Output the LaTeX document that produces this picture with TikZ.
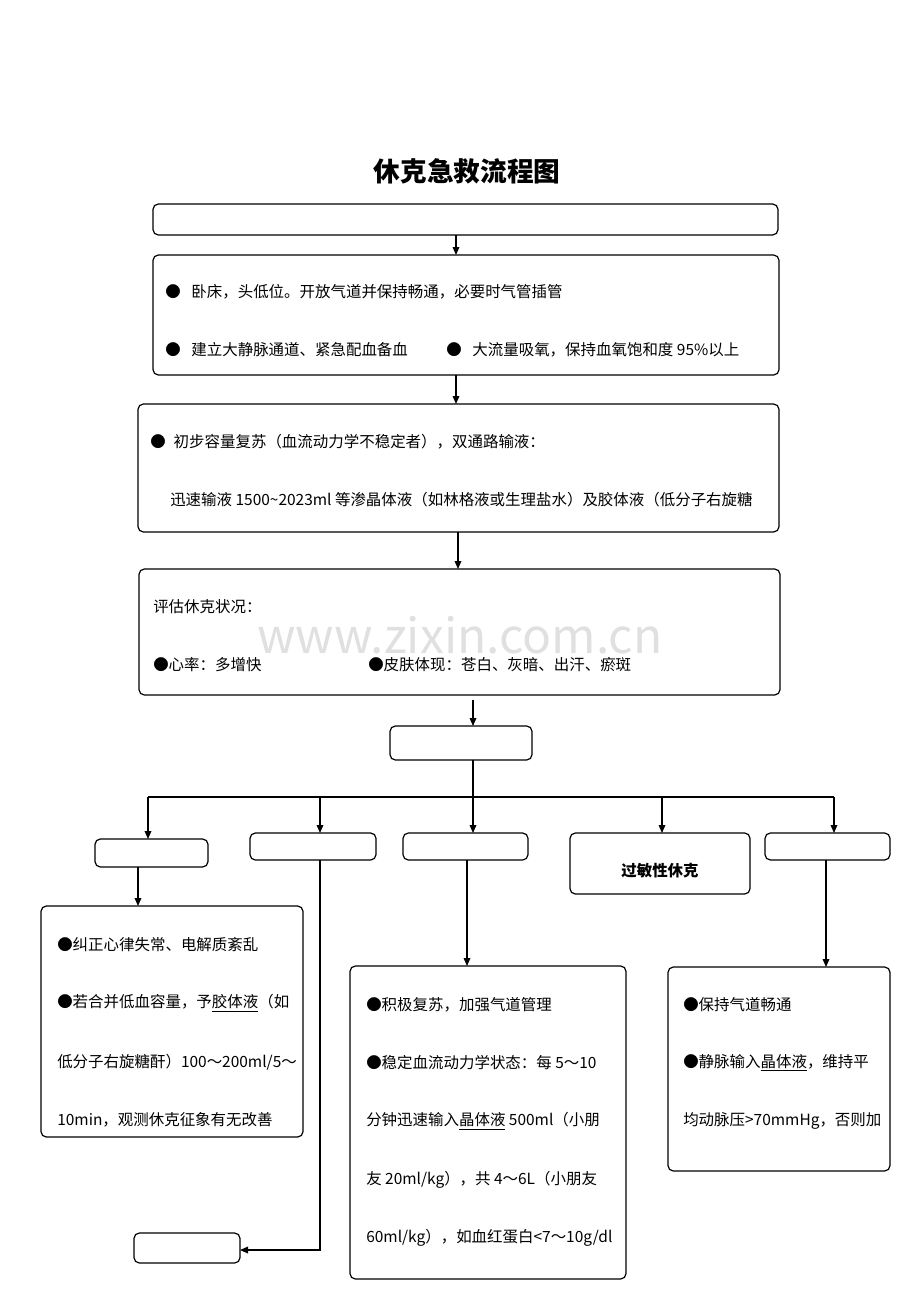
\documentclass[tikz,border=0pt]{standalone}
\usepackage{fontspec}
\setmainfont{Noto Sans CJK SC}
\usetikzlibrary{arrows.meta}
\begin{document}
\begin{tikzpicture}[x=0.75pt,y=-0.75pt,
 box/.style={draw,rounded corners=4pt,line width=0.9pt},
 arr/.style={-{Triangle[length=6pt,width=5pt]},line width=0.9pt},
 ln/.style={line width=0.9pt},
 t/.style={anchor=west,inner sep=0pt,font=\fontsize{11.6}{13}\selectfont}]
\useasboundingbox (0,0) rectangle (920,1302);
\node[text=black!12,font=\fontsize{36}{40}\selectfont] (wm) at (460,635) {www.zixin.com.cn};
\node[font=\fontsize{20}{23}\selectfont\bfseries] (title) at (467,171) {休克急救流程图};
% boxes
\draw[box] (153,204) rectangle (778,235); \coordinate (b1s) at (456,235);
\draw[box] (153,255) rectangle (779,375); \coordinate (b2n) at (456,255); \coordinate (b2s) at (456,375);
\draw[box] (138,404) rectangle (779,532); \coordinate (b3n) at (456,404); \coordinate (b3s) at (458,532);
\draw[box] (139,569) rectangle (780,695); \coordinate (b4n) at (458,569); \coordinate (b4s) at (473,700);
\draw[box] (390,726) rectangle (532,760); \coordinate (b5n) at (473,726); \coordinate (b5s) at (473,760);
\draw[box] (95,839) rectangle (208,867);
\draw[box] (250,833) rectangle (376,860);
\draw[box] (403,833) rectangle (528,860);
\draw[box] (570,833) rectangle (750,894);
\draw[box] (765,833) rectangle (890,860);
\draw[box] (41,906) rectangle (303,1137);
\draw[box] (134,1233) rectangle (240,1263);
\draw[box] (350,966) rectangle (626,1279);
\draw[box] (668,967) rectangle (890,1171);
% texts
\node[t] (l1) at (165,292) {●\hspace{8pt}卧床，头低位。开放气道并保持畅通，必要时气管插管};
\node[t] (l2) at (165,350) {●\hspace{8pt}建立大静脉通道、紧急配血备血};
\node[t] (l3) at (446,350) {●\hspace{8pt}大流量吸氧，保持血氧饱和度 95\%以上};
\node[t] (l4) at (150,442) {●\hspace{6pt}初步容量复苏（血流动力学不稳定者），双通路输液：};
\node[t] (l5) at (170,500) {迅速输液 1500\textasciitilde 2023ml 等渗晶体液（如林格液或生理盐水）及胶体液（低分子右旋糖};
\node[t] (l6) at (153,607) {评估休克状况：};
\node[t] (l7) at (153,665) {●心率：多增快};
\node[t] (l8) at (368,665) {●皮肤体现：苍白、灰暗、出汗、瘀斑};
\node[font=\fontsize{11.6}{13}\selectfont\bfseries] (d) at (660,871) {过敏性休克};
\node[t] (a1) at (57,945) {●纠正心律失常、电解质紊乱};
\node[t] (a2) at (57,1003) {●若合并低血容量，予\underline{胶体液}（如};
\node[t] (a3) at (57,1062) {低分子右旋糖酐）100～200ml/5～};
\node[t] (a4) at (57,1120) {10min，观测休克征象有无改善};
\node[t] (c1) at (366,1005) {●积极复苏，加强气道管理};
\node[t] (c2) at (366,1063) {●稳定血流动力学状态：每 5～10};
\node[t] (c3) at (366,1121) {分钟迅速输入\underline{晶体液} 500ml（小朋};
\node[t] (c4) at (366,1180) {友 20ml/kg），共 4～6L（小朋友};
\node[t] (c5) at (366,1238) {60ml/kg），如血红蛋白<7～10g/dl};
\node[t] (e1) at (683,1005) {●保持气道畅通};
\node[t] (e2) at (683,1063) {●静脉输入\underline{晶体液}，维持平};
\node[t] (e3) at (683,1121) {均动脉压>70mmHg，否则加};
% connectors
\draw[arr] (b1s) -- (b2n);
\draw[arr] (b2s) -- (b3n);
\draw[arr] (b3s) -- (b4n);
\draw[arr] (b4s) -- (b5n);
\draw[arr] (b5s) -- (473,833);
\draw[ln] (148,797) -- (834,797);
\draw[arr] (148,797) -- (148,839);
\draw[arr] (320,797) -- (320,833);
\draw[arr] (662,797) -- (662,833);
\draw[arr] (834,797) -- (834,833);
\draw[arr] (138,867) -- (138,906);
\draw[arr] (320,860) -- (320,1250) -- (240,1250);
\draw[arr] (467,860) -- (467,966);
\draw[arr] (826,860) -- (826,967);
\end{tikzpicture}
\end{document}
